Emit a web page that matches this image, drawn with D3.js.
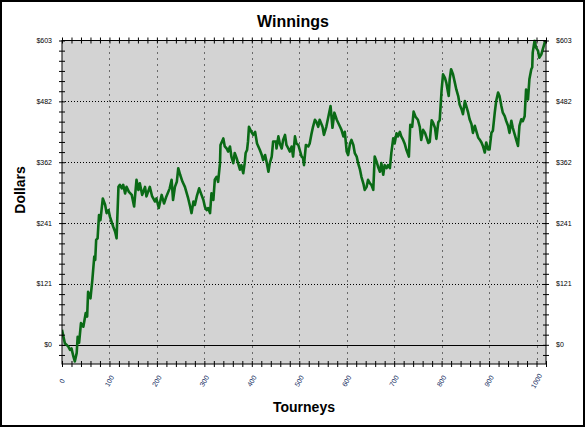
<!DOCTYPE html>
<html>
<head>
<meta charset="utf-8">
<script src="https://cdn.jsdelivr.net/npm/d3@7/dist/d3.min.js"></script>
<style>
  html, body { margin: 0; padding: 0; background: #fff; }
  svg { display: block; }
  text { font-family: "Liberation Sans", Arial, sans-serif; }
</style>
</head>
<body>
<svg id="chart" width="586" height="428"></svg>
<script>
// ---- data ----
const tourneys = [0,6,13,17,20,24,27,31,33,36,40,45,50,53,55,60,64,68,70,72,75,78,81,86,91,94,98,101,108,112,115,119,122,126,129,133,136,141,147,152,157,161,164,169,175,178,185,190,196,199,204,210,215,220,227,231,234,238,242,245,249,254,259,266,270,273,277,280,284,289,294,298,301,305,308,312,315,319,322,326,329,333,334,340,343,347,350,354,357,361,364,368,371,375,378,382,385,387,390,392,394,399,403,407,411,417,421,424,428,431,435,438,442,445,451,452,456,459,463,466,470,473,477,480,484,487,491,494,498,501,505,508,510,514,519,522,526,529,533,536,540,543,549,552,557,562,566,570,574,579,586,589,593,596,600,603,607,610,614,617,621,624,628,631,635,638,642,645,649,652,656,659,663,666,670,673,677,680,684,687,691,694,698,701,705,708,712,715,719,722,726,731,734,738,741,745,750,754,757,761,765,772,775,779,782,786,789,793,796,797,800,803,807,810,813,815,817,820,824,828,831,835,838,842,845,849,852,856,859,863,866,870,873,877,880,884,887,891,894,898,901,905,908,912,915,919,922,926,929,933,936,940,943,947,950,954,957,961,964,968,971,975,978,982,985,989,991,992,996,999,1003,1006,1010,1013,1017,1019];
const winnings = [30,3,-3,-10,-7,-23,-33,-16,16,4,43,36,63,56,105,92,129,175,168,208,211,257,247,290,277,261,267,254,234,224,211,313,317,310,317,300,313,303,297,274,327,307,320,297,313,294,313,294,284,290,271,297,280,294,310,327,287,313,323,350,337,323,313,290,274,261,284,277,294,310,297,287,274,267,271,261,300,287,327,333,323,360,396,409,393,389,383,393,373,360,380,370,360,347,356,340,360,380,386,403,432,422,416,422,399,386,376,366,376,363,343,360,373,403,403,389,413,399,389,406,416,396,389,383,393,373,413,399,396,386,373,370,356,396,393,399,419,432,446,442,432,446,432,416,432,455,473,430,460,446,432,426,413,422,383,376,399,406,396,380,373,360,347,333,320,307,313,327,320,317,307,373,363,353,343,360,337,356,350,356,350,380,409,399,419,413,422,413,406,399,386,373,436,432,462,452,446,432,406,426,420,400,402,445,440,430,408,441,445,460,505,536,529,519,503,493,526,546,536,519,506,493,476,467,457,483,473,460,447,437,420,434,424,411,407,401,394,381,401,387,387,420,424,460,483,500,493,473,460,453,444,434,420,444,430,417,407,394,434,447,443,453,506,486,526,546,550,579,603,589,583,569,575,585,598,603];

const xTickValues = [0,100,200,300,400,500,600,700,800,900,1000];
const xTickLabels = ["0","100","200","300","400","500","600","700","800","900","1000"];
const yTickValues = [0,120.6,241.2,361.8,482.4,603];
const yTickLabels = ["$0","$121","$241","$362","$482","$603"];

const title = "Winnings";
const xTitle = "Tourneys";
const yTitle = "Dollars";

// ---- layout ----
const W = 586, H = 428;
const L = 62, R = 546, T = 40.5, B = 364;

const svg = d3.select("#chart");

svg.append("rect").attr("x",1).attr("y",1).attr("width",583).attr("height",425)
  .attr("fill","#fff").attr("stroke","#000").attr("stroke-width",2);

const x = d3.scaleLinear().domain([0,1020]).range([L,R]);
const y = d3.scaleLinear().domain([-38,603]).range([B,T]);

svg.append("rect").attr("x",L).attr("y",T).attr("width",R-L).attr("height",B-T)
  .attr("fill","#d3d3d3");

// grid
const g = svg.append("g");
g.selectAll(".hg").data(yTickValues.filter(v=>v>0 && v<603)).join("line")
  .attr("x1",L).attr("x2",R).attr("y1",d=>Math.round(y(d))+0.5).attr("y2",d=>Math.round(y(d))+0.5)
  .attr("stroke","#000").attr("stroke-width",1).attr("stroke-dasharray","1,2");
g.selectAll(".vg").data(xTickValues.filter(v=>v>0)).join("line")
  .attr("y1",T).attr("y2",B).attr("x1",d=>Math.round(x(d))+0.5).attr("x2",d=>Math.round(x(d))+0.5)
  .attr("stroke","#000").attr("stroke-width",1).attr("stroke-dasharray","1,5");
g.append("line").attr("x1",L).attr("x2",R).attr("y1",Math.round(y(0))+0.5).attr("y2",Math.round(y(0))+0.5)
  .attr("stroke","#000").attr("stroke-width",1);

// line
svg.append("clipPath").attr("id","clip").append("rect")
  .attr("x",L).attr("y",T-1).attr("width",R-L).attr("height",B-T+1);
const pts = tourneys.map((t,i)=>[t,winnings[i]]);
svg.append("path").datum(pts)
  .attr("clip-path","url(#clip)")
  .attr("fill","none").attr("stroke","#0a6a16").attr("stroke-width",2.6)
  .attr("stroke-linejoin","round")
  .attr("d", d3.line().x(d=>x(d[0])).y(d=>y(d[1])));

// axes
const xMinor = d3.range(0,1021,20);
const yMinor = d3.range(-20.1,604,20.1);

function crossTicks(sel, horiz){
  sel.selectAll(".tick line").attr(horiz?"y1":"x1",-3).attr(horiz?"y2":"x2",3);
  sel.select(".domain").remove();
}
const axB = svg.append("g").attr("transform",`translate(0,${B})`)
  .call(d3.axisBottom(x).tickValues(xMinor).tickFormat(""));
crossTicks(axB,true);
const axT = svg.append("g").attr("transform",`translate(0,${T})`)
  .call(d3.axisTop(x).tickValues(xMinor).tickFormat(""));
crossTicks(axT,true);
const axL = svg.append("g").attr("transform",`translate(${L},0)`)
  .call(d3.axisLeft(y).tickValues(yMinor).tickFormat(""));
crossTicks(axL,false);
const axR = svg.append("g").attr("transform",`translate(${R},0)`)
  .call(d3.axisRight(y).tickValues(yMinor).tickFormat(""));
crossTicks(axR,false);

// frame
svg.append("rect").attr("x",L).attr("y",T).attr("width",R-L).attr("height",B-T)
  .attr("fill","none").attr("stroke","#000").attr("stroke-width",1);

// y labels
yTickValues.forEach((v,i)=>{
  svg.append("text").attr("x",L-10).attr("y",y(v)).attr("dy","0.35em")
    .attr("text-anchor","end").attr("font-size",7).attr("fill","#000").text(yTickLabels[i]);
  svg.append("text").attr("x",R+10).attr("y",y(v)).attr("dy","0.35em")
    .attr("text-anchor","start").attr("font-size",7).attr("fill","#000").text(yTickLabels[i]);
});
// x labels
xTickValues.forEach((v,i)=>{
  svg.append("text").attr("transform",`translate(${x(v)},381) rotate(-60)`)
    .attr("dy","0.35em").attr("text-anchor","middle").attr("font-size",7)
    .attr("fill","#102a60").text(xTickLabels[i]);
});

// titles
svg.append("text").attr("x",293).attr("y",27).attr("text-anchor","middle")
  .attr("font-size",16).attr("font-weight","bold").text(title);
svg.append("text").attr("x",304).attr("y",412).attr("text-anchor","middle")
  .attr("font-size",14).attr("font-weight","bold").text(xTitle);
svg.append("text").attr("transform","translate(25,190) rotate(-90)").attr("text-anchor","middle")
  .attr("font-size",14).attr("font-weight","bold").text(yTitle);
</script>
</body>
</html>
